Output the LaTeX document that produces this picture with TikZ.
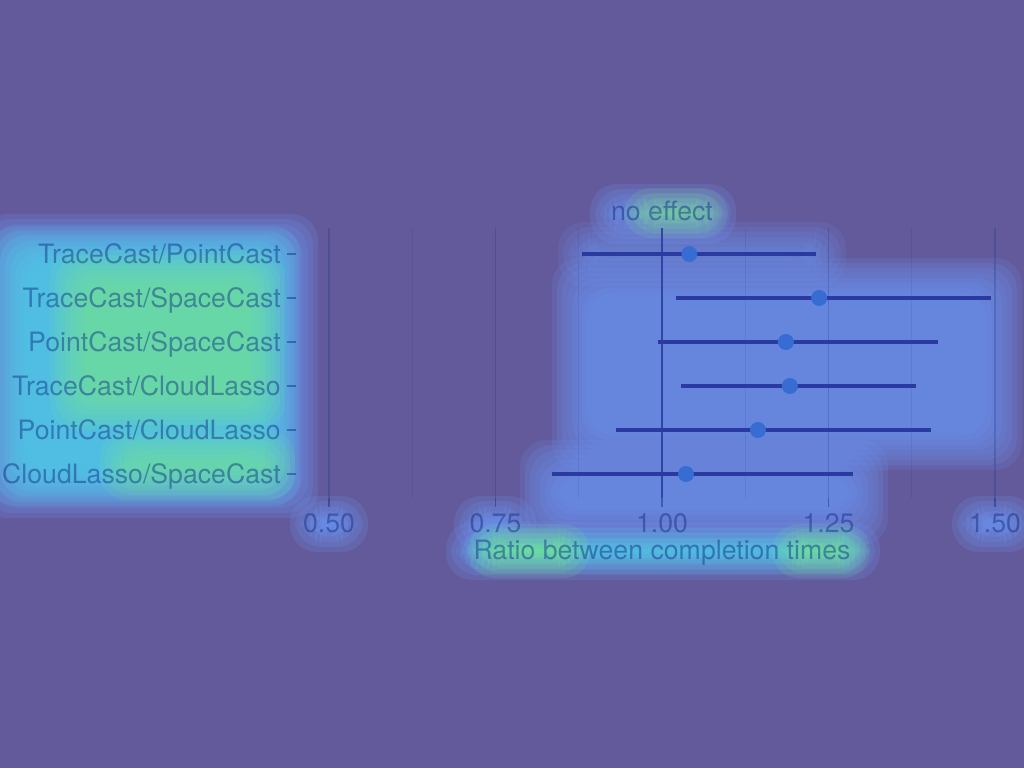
\documentclass[tikz,border=0pt]{standalone}
\usepackage{fontspec}
\setmainfont{TeX Gyre Heros}
\usetikzlibrary{positioning}
\definecolor{bgpurple}{RGB}{99,90,155}
\definecolor{glowblue}{RGB}{108,150,245}
\definecolor{glowcyan}{RGB}{75,210,228}
\definecolor{glowgreen}{RGB}{125,236,135}
\definecolor{cinavy}{RGB}{42,58,160}
\definecolor{ptblue}{RGB}{55,108,210}
\definecolor{inkblue}{RGB}{10,40,130}
% soft glow: stacked rounded boxes
\newcommand{\glow}[6][.19]{%
  \foreach \k in {0,...,7}{%
    \pgfmathsetmacro\ins{\k*5}%
    \fill[#6, fill opacity=#1, rounded corners=20pt] (#2+\ins,#3+\ins) rectangle (#4-\ins,#5-\ins);
  }}
\begin{document}
\begin{tikzpicture}[x=0.75pt, y=-0.75pt,
    lab/.style={font=\fontsize{20}{24}\selectfont, text=inkblue, text opacity=.45, inner sep=0pt},
    major/.style={inkblue, opacity=.22, line width=1.1pt},
    minor/.style={inkblue, opacity=.1, line width=.6pt},
    ci/.style={cinavy, line width=2.4pt},
    tick/.style={inkblue, opacity=.45, line width=.8pt}]
  \useasboundingbox (0,0) rectangle (1024,768);
  \fill[bgpurple] (0,0) rectangle (1024,768);
  % heat glow
  \glow{-20}{214}{318}{518}{glowblue}
  \glow[.16]{-10}{226}{300}{506}{glowcyan}
  \glow[.11]{50}{250}{285}{430}{glowgreen}
  \glow[.11]{100}{430}{295}{500}{glowgreen}
  \glow[.16]{552}{258}{1022}{470}{glowblue}
  \glow[.16]{520}{440}{888}{545}{glowblue}
  \glow[.13]{558}{222}{846}{286}{glowblue}
  \glow{590}{184}{736}{244}{glowblue}
  \glow[.13]{624}{188}{728}{238}{glowgreen}
  \glow{290}{496}{368}{552}{glowblue}
  \glow{454}{496}{536}{552}{glowblue}
  \glow{952}{496}{1036}{552}{glowblue}
  \glow{446}{522}{880}{580}{glowblue}
  \glow[.14]{462}{528}{868}{574}{glowcyan}
  \glow[.13]{468}{524}{590}{578}{glowgreen}
  \glow[.13]{772}{524}{870}{578}{glowgreen}
  % grid
  \foreach \v in {0.625,0.875,1.125,1.375}
    \draw[minor] ({662+(\v-1)*666},228) -- ({662+(\v-1)*666},498);
  \foreach \v/\t in {0.5/0.50,0.75/0.75,1.0/1.00,1.25/1.25,1.5/1.50}{
    \draw[major] ({662+(\v-1)*666},228) -- ({662+(\v-1)*666},498);
    \draw[tick] ({662+(\v-1)*666},498) -- ({662+(\v-1)*666},507);
    \node[lab, anchor=base] (x\t) at ({662+(\v-1)*666},532) {\t};
  }
  % no effect line
  \draw[cinavy, opacity=.8, line width=1.6pt] (662,228) -- (662,498);
  \node[lab, anchor=base] (noeff) at (662,220) {no effect};
  % rows
  \foreach \lo/\pt/\hi/\lab [count=\r] in {
      0.880/1.041/1.231/{TraceCast/PointCast},
      1.021/1.236/1.494/{TraceCast/SpaceCast},
      0.994/1.186/1.415/{PointCast/SpaceCast},
      1.029/1.192/1.381/{TraceCast/CloudLasso},
      0.931/1.144/1.404/{PointCast/CloudLasso},
      0.835/1.036/1.287/{CloudLasso/SpaceCast}}{
    \node[lab, anchor=base east] (row\r) at (281,{263+44*(\r-1)}) {\lab};
    \draw[tick] (287,{254+44*(\r-1)}) -- (296,{254+44*(\r-1)});
    \draw[ci] ({662+(\lo-1)*666},{254+44*(\r-1)}) -- ({662+(\hi-1)*666},{254+44*(\r-1)});
    \fill[ptblue] ({662+(\pt-1)*666},{254+44*(\r-1)}) circle (6pt);
  }
  \node[lab, anchor=base] (xtitle) at (662,559) {Ratio between completion times};
\end{tikzpicture}
\end{document}
